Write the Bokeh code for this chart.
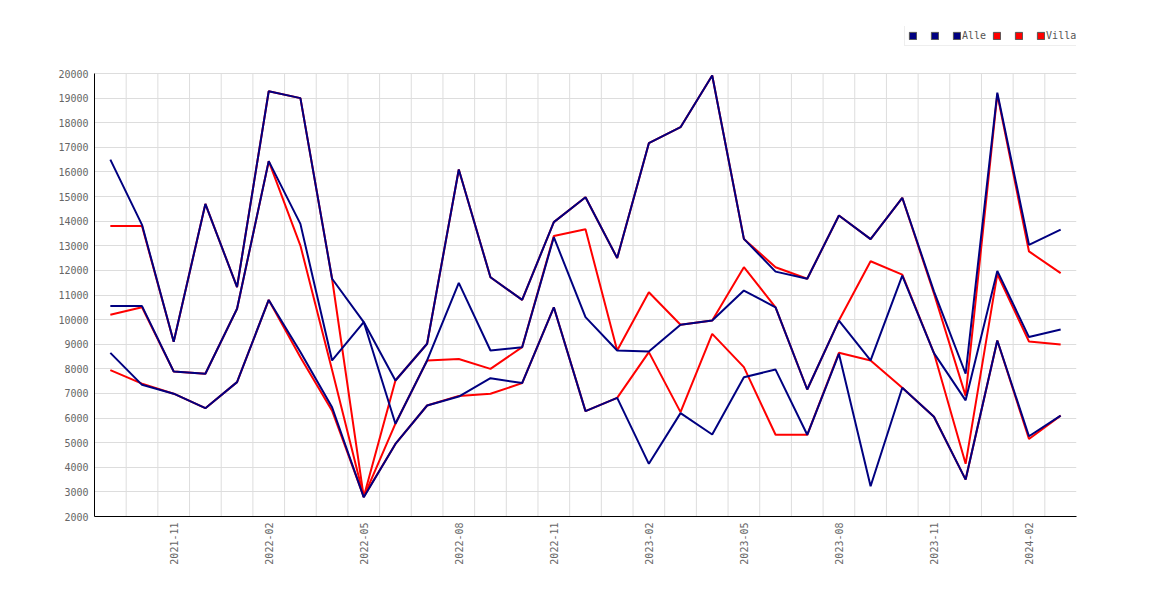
from bokeh.plotting import figure
from bokeh.models import FixedTicker, Legend, LegendItem
from bokeh.embed import file_html
from bokeh.resources import INLINE
import math

months = ["2021-09", "2021-10", "2021-11", "2021-12", "2022-01", "2022-02", "2022-03",
          "2022-04", "2022-05", "2022-06", "2022-07", "2022-08", "2022-09", "2022-10",
          "2022-11", "2022-12", "2023-01", "2023-02", "2023-03", "2023-04", "2023-05",
          "2023-06", "2023-07", "2023-08", "2023-09", "2023-10", "2023-11", "2023-12",
          "2024-01", "2024-02", "2024-03"]

tick_labels = ["2021-11", "2022-02", "2022-05", "2022-08", "2022-11", "2023-02",
               "2023-05", "2023-08", "2023-11", "2024-02"]

y_ticks = list(range(2000, 20001, 1000))

# Alle (navy) - three series
alle_1 = [16500, 13850, 9100, 14700, 11320, 19280, 19000, 11660, 9900, 7525, 9020,
          16100, 11720, 10800, 13960, 14970, 12500, 17170, 17820, 19920, 13280,
          11950, 11660, 14230, 13270, 14950, 11150, 7800, 19220, 13040, 13660]
alle_2 = [10550, 10550, 7890, 7800, 10440, 16440, 13890, 8340, 9900, 5770, 8340,
          11490, 8745, 8880, 13350, 10100, 8745, 8700, 9790, 9960, 11180,
          10500, 7160, 9960, 8340, 11790, 8640, 6720, 11980, 9290, 9600]
alle_3 = [8650, 7350, 6990, 6400, 7460, 10800, 8680, 6440, 2780, 4950, 6510,
          6875, 7620, 7420, 10500, 6280, 6820, 4140, 6200, 5330, 7660,
          7970, 5320, 8610, 3230, 7230, 6050, 3500, 9150, 5260, 6100]

# Villa (red) - three series
villa_1 = [13800, 13800, 9100, 14700, 11320, 19280, 19000, 11660, 2800, 7525, 9020,
           16100, 11720, 10800, 13960, 14970, 12500, 17170, 17820, 19920, 13280,
           12130, 11660, 14230, 13270, 14950, 11060, 6900, 19150, 12770, 11890]
villa_2 = [10200, 10500, 7890, 7800, 10440, 16440, 13010, 7950, 2800, 5770, 8340,
           8400, 8000, 8880, 13400, 13670, 8745, 11110, 9790, 9960, 12130,
           10500, 7160, 9960, 12370, 11830, 8640, 4140, 11850, 9110, 8990]
villa_3 = [7950, 7400, 6990, 6400, 7460, 10800, 8470, 6300, 2800, 4950, 6510,
           6900, 6985, 7420, 10500, 6280, 6820, 8680, 6240, 9420, 8070,
           5320, 5320, 8650, 8340, 7230, 6050, 3500, 9150, 5150, 6100]

x = list(range(len(months)))

FONT = "DejaVu Sans Mono"

# frame extends up to the legend row; the value area is 443 px tall
PLOT_H = 443
TOP_EXTRA = 47
y_lo, y_hi = y_ticks[0], y_ticks[-1]
y_top = y_hi + (y_hi - y_lo) * TOP_EXTRA / PLOT_H

p = figure(frame_width=982, frame_height=PLOT_H + TOP_EXTRA,
           min_border_left=94, min_border_right=86, min_border_top=26, min_border_bottom=76,
           x_range=(-0.5, len(months) - 0.5), y_range=(y_lo, y_top),
           output_backend="svg", toolbar_location=None)
p.outline_line_color = None
p.background_fill_color = "white"
p.border_fill_color = "white"

# vertical grid lines between months, limited to the value area
gx = [i + 0.5 for i in range(len(months) - 1)]
p.segment(x0=gx, y0=[y_lo] * len(gx), x1=gx, y1=[y_hi] * len(gx),
          line_color="#dddddd", line_width=1)
p.xgrid.visible = False

for s in (villa_1, villa_2, villa_3):
    p.line(x, s, line_color="#ff0000", line_width=2)
for s in (alle_1, alle_2, alle_3):
    p.line(x, s, line_color="#000080", line_width=2)

# axes
tick_pos = [i for i, m in enumerate(months) if m in tick_labels]
p.xaxis.ticker = FixedTicker(ticks=tick_pos)
p.xaxis.major_label_overrides = {i: months[i] for i in tick_pos}
p.xaxis.major_label_orientation = math.pi / 2
p.yaxis.ticker = FixedTicker(ticks=y_ticks)
p.yaxis.formatter.use_scientific = False
p.yaxis.bounds = (y_lo, y_hi)
for ax in (p.xaxis, p.yaxis):
    ax.axis_line_color = "black"
    ax.axis_line_width = 1
    ax.major_tick_out = 0
    ax.major_tick_in = 0
    ax.minor_tick_out = 0
    ax.minor_tick_in = 0
    ax.major_label_standoff = 6
    ax.major_label_text_font = FONT
    ax.major_label_text_font_size = "10px"
    ax.major_label_text_color = "#666666"

p.ygrid.ticker = FixedTicker(ticks=y_ticks)
p.ygrid.grid_line_color = "#dddddd"
p.ygrid.grid_line_width = 1

# legend swatches (no visible data, only legend glyphs)
nan = float("nan")
q_navy = p.quad(left=[nan], right=[nan], top=[nan], bottom=[nan],
                fill_color="#000080", line_color="#555555", line_width=1)
q_red = p.quad(left=[nan], right=[nan], top=[nan], bottom=[nan],
               fill_color="#ff0000", line_color="#555555", line_width=1)
items = [LegendItem(label=" ", renderers=[q_navy]),
         LegendItem(label=" ", renderers=[q_navy]),
         LegendItem(label="Alle", renderers=[q_navy]),
         LegendItem(label=" ", renderers=[q_red]),
         LegendItem(label=" ", renderers=[q_red]),
         LegendItem(label="Villa", renderers=[q_red])]
legend = Legend(items=items, orientation="horizontal", location=(810, PLOT_H + 27),
                glyph_width=9, glyph_height=9, label_standoff=1, label_width=6,
                label_height=14, spacing=6, padding=3, margin=0,
                label_text_font=FONT, label_text_font_size="10px",
                label_text_color="#555555", border_line_color="#dddddd",
                background_fill_color="white", background_fill_alpha=1.0)
p.add_layout(legend)

open("out.html", "w").write(file_html(p, INLINE))
